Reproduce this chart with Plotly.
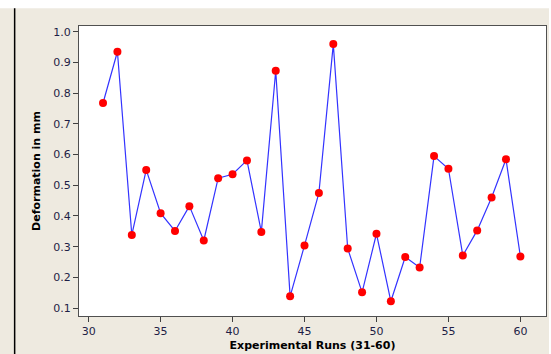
import plotly.graph_objects as go

runs = list(range(31, 61))
deformation = [0.768, 0.935, 0.338, 0.550, 0.409, 0.351, 0.432, 0.320, 0.523, 0.536,
               0.581, 0.348, 0.873, 0.138, 0.304, 0.475, 0.960, 0.294, 0.151, 0.342,
               0.122, 0.266, 0.232, 0.595, 0.554, 0.271, 0.353, 0.460, 0.585, 0.268]
y_ticks = [0.1, 0.2, 0.3, 0.4, 0.5, 0.6, 0.7, 0.8, 0.9, 1.0]
x_ticks = [30, 35, 40, 45, 50, 55, 60]

fig = go.Figure()
fig.add_trace(go.Scatter(
    x=runs, y=deformation, mode="lines+markers",
    line=dict(color="#3333ff", width=1.2),
    marker=dict(color="#ff0000", size=8),
    showlegend=False, hoverinfo="x+y"))

axis_font = dict(family="DejaVu Sans", size=11, color="#1e1e46")
title_font = dict(family="DejaVu Sans", size=11, color="#000000")

fig.update_layout(
    width=551, height=354,
    margin=dict(l=79, r=4, t=26, b=36),
    paper_bgcolor="#eeeae0",
    plot_bgcolor="#ffffff",
    xaxis=dict(range=[29.33, 61.78], tickvals=x_ticks, ticks="outside", ticklen=5,
               tickcolor="#404040", showgrid=False, zeroline=False,
               showline=True, linecolor="#505050", linewidth=1, mirror=True,
               tickfont=axis_font,
               title=dict(text="<b>Experimental Runs (31-60)</b>", font=title_font, standoff=4)),
    yaxis=dict(range=[0.074, 1.019], tickvals=y_ticks, tickformat=".1f", ticks="outside",
               ticklen=5, tickcolor="#404040", showgrid=False, zeroline=False,
               showline=True, linecolor="#505050", linewidth=1, mirror=True,
               tickfont=axis_font,
               title=dict(text="<b>Deformation in mm</b>", font=title_font, standoff=10)),
    shapes=[
        dict(type="rect", xref="paper", yref="paper", x0=-0.2, x1=1.1, y0=1.0616, y1=1.2,
             fillcolor="#ffffff", line=dict(width=0), layer="below"),
        dict(type="rect", xref="paper", yref="paper", x0=1.0064, x1=1.1, y0=-0.2, y1=1.2,
             fillcolor="#ffffff", line=dict(width=0), layer="below"),
        dict(type="line", xref="paper", yref="paper", x0=-0.1378, x1=-0.1378, y0=-0.2, y1=1.0616,
             line=dict(color="#000000", width=1.5)),
    ],
)

fig.write_html("out.html")
